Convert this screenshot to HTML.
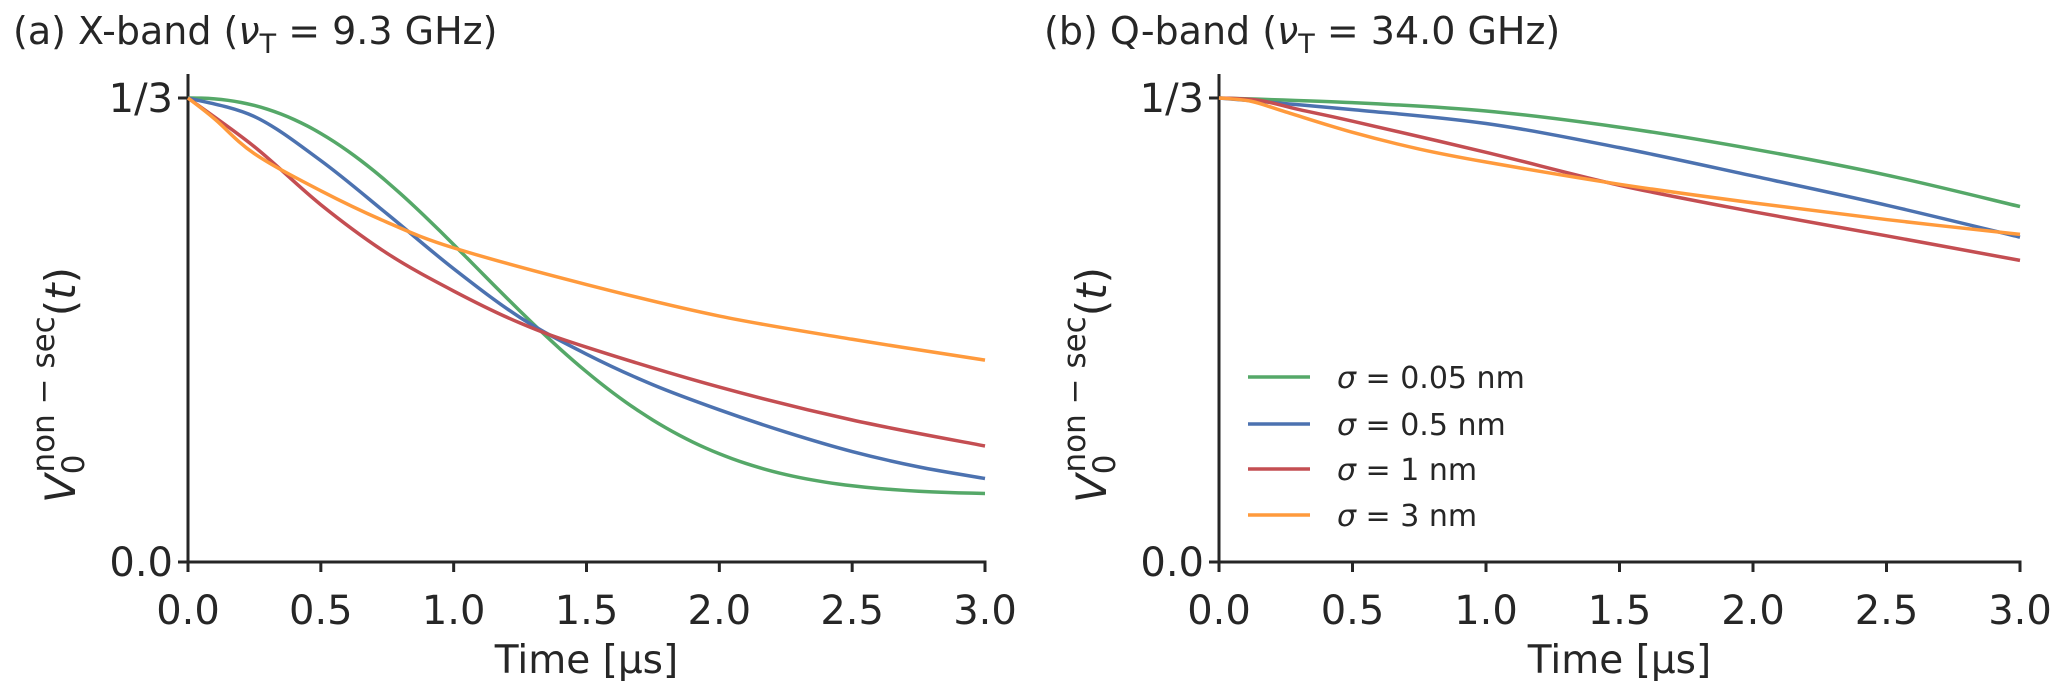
<!DOCTYPE html>
<html><head><meta charset="utf-8"><style>
html,body{margin:0;padding:0;background:#fff;}
svg text{font-family:"DejaVu Sans","Liberation Sans",sans-serif;fill:#262626;}
</style></head><body>
<svg id="s" width="2067" height="691" viewBox="0 0 2067 691" xmlns="http://www.w3.org/2000/svg">
<text x="13" y="44" font-size="38">(a) X-band (<tspan font-style="italic">ν</tspan><tspan font-size="27" dy="9">T</tspan><tspan dy="-9"> = 9.3 GHz)</tspan></text>
<text x="1044" y="44" font-size="38">(b) Q-band (<tspan font-style="italic">ν</tspan><tspan font-size="27" dy="9">T</tspan><tspan dy="-9"> = 34.0 GHz)</tspan></text>
<g id="leg">
<line x1="1248" y1="377" x2="1310" y2="377" stroke="#55a868" stroke-width="3.5"/>
<line x1="1248" y1="424" x2="1310" y2="424" stroke="#4c72b0" stroke-width="3.5"/>
<line x1="1248" y1="469" x2="1310" y2="469" stroke="#c44e52" stroke-width="3.5"/>
<line x1="1248" y1="515" x2="1310" y2="515" stroke="#ff9a3c" stroke-width="3.5"/>
<text x="1337" y="388" font-size="30"><tspan font-style="italic">σ</tspan> = 0.05 nm</text>
<text x="1337" y="435" font-size="30"><tspan font-style="italic">σ</tspan> = 0.5 nm</text>
<text x="1337" y="480" font-size="30"><tspan font-style="italic">σ</tspan> = 1 nm</text>
<text x="1337" y="526" font-size="30"><tspan font-style="italic">σ</tspan> = 3 nm</text>
</g>
</svg>
<script>
const NS="http://www.w3.org/2000/svg",s=document.getElementById('s');
function el(t,a,txt){const e=document.createElementNS(NS,t);for(const k in a)e.setAttribute(k,a[k]);if(txt!==undefined)e.textContent=txt;s.appendChild(e);return e;}
const Y0=562,Y1=98;
function path(pts,x0,w,col){
  const P=pts.map(p=>[x0+p[0]/3*w,Y0-p[1]*(Y0-Y1)]);
  let d="M"+P[0][0]+","+P[0][1];
  for(let i=0;i<P.length-1;i++){
    const p0=P[Math.max(i-1,0)],p1=P[i],p2=P[i+1],p3=P[Math.min(i+2,P.length-1)];
    const c1=[p1[0]+(p2[0]-p0[0])/6,p1[1]+(p2[1]-p0[1])/6],c2=[p2[0]-(p3[0]-p1[0])/6,p2[1]-(p3[1]-p1[1])/6];
    d+=" C"+c1+" "+c2+" "+p2;
  }
  el('path',{d:d,fill:'none',stroke:col,'stroke-width':3.5,'stroke-linejoin':'round'});
}
function fpts(f){const a=[];for(let i=0;i<=60;i++){const t=i*0.05;a.push([t,f(t)]);}return a;}
function axes(x0,w,lx){
  el('line',{x1:x0,y1:74,x2:x0,y2:Y0+1.5,stroke:'#262626','stroke-width':3});
  el('line',{x1:x0-1.5,y1:Y0,x2:x0+w+1.5,y2:Y0,stroke:'#262626','stroke-width':3});
  for(let i=0;i<=6;i++){const x=x0+i*w/6;
    el('line',{x1:x,y1:Y0,x2:x,y2:Y0+10,stroke:'#262626','stroke-width':3});
    el('text',{x:x,y:624,'font-size':40,'text-anchor':'middle'},(i*0.5).toFixed(1));}
  el('line',{x1:x0-10,y1:Y0,x2:x0,y2:Y0,stroke:'#262626','stroke-width':3});
  el('line',{x1:x0-10,y1:Y1,x2:x0,y2:Y1,stroke:'#262626','stroke-width':3});
  el('text',{x:x0-15,y:Y0+14,'font-size':40,'text-anchor':'end'},'0.0');
  el('text',{x:x0-15,y:Y1+14,'font-size':40,'text-anchor':'end'},'1/3');
  el('text',{x:x0+w/2,y:673,'font-size':39,'text-anchor':'middle'},'Time [μs]');
  const g=document.createElementNS(NS,'text');g.setAttribute('transform','translate('+lx+',385) rotate(-90)');
  g.setAttribute('font-size','42');g.setAttribute('text-anchor','middle');
  g.innerHTML='<tspan font-style="italic">V</tspan><tspan font-size="31" dy="9">0</tspan><tspan font-size="31" dx="-18" dy="-30">non − sec</tspan><tspan dy="21">(</tspan><tspan font-style="italic">t</tspan><tspan>)</tspan>';
  s.appendChild(g);
}
const L=188,W=797,R=1219,W2=801;
axes(L,W,75);axes(R,W2,1106);
path(fpts(t=>0.145+0.855*Math.exp(-Math.pow(t/1.40,2.3))),L,W,'#55a868');
path([[0,1],[0.25,0.96],[0.5,0.865],[0.75,0.75],[1,0.632],[1.25,0.527],[1.5,0.448],[1.75,0.382],[2,0.328],[2.25,0.28],[2.5,0.238],[2.75,0.205],[3,0.18]],L,W,'#4c72b0');
path([[0,1],[0.25,0.895],[0.5,0.77],[0.75,0.665],[1,0.584],[1.25,0.515],[1.5,0.463],[2,0.377],[2.5,0.306],[3,0.25]],L,W,'#c44e52');
path([[0,1],[0.1,0.955],[0.25,0.88],[0.5,0.8],[0.75,0.732],[1,0.677],[1.5,0.598],[2,0.53],[2.5,0.48],[3,0.435]],L,W,'#ff9a3c');
path([[0,1],[0.5,0.99],[1,0.972],[1.5,0.937],[2,0.89],[2.5,0.834],[3,0.766]],R,W2,'#55a868');
path([[0,1],[0.5,0.975],[1,0.945],[1.5,0.893],[2,0.832],[2.5,0.769],[3,0.7]],R,W2,'#4c72b0');
path([[0,1],[0.15,0.995],[0.3,0.975],[0.5,0.95],[1,0.883],[1.5,0.812],[2,0.755],[2.5,0.703],[3,0.65]],R,W2,'#c44e52');
path([[0,1],[0.12,0.993],[0.25,0.97],[0.5,0.926],[0.75,0.89],[1,0.862],[1.5,0.814],[2,0.774],[2.5,0.738],[3,0.706]],R,W2,'#ff9a3c');
</script>
</body></html>
